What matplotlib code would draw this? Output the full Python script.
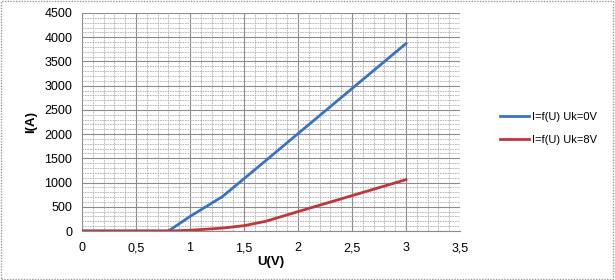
import matplotlib.pyplot as plt
from matplotlib.ticker import MultipleLocator, FuncFormatter
from matplotlib.patches import Rectangle

u = [0, 0.5, 0.8, 1.0, 1.3, 1.5, 1.7, 2.0, 2.5, 3.0]
i_uk0 = [0, 0, 0, 300, 710, 1080, 1450, 2010, 2940, 3870]
i_uk8 = [0, 0, 0, 15, 60, 110, 200, 400, 730, 1060]
labels = ['I=f(U) Uk=0V', 'I=f(U) Uk=8V']

plt.rcParams['font.family'] = ['Liberation Sans', 'DejaVu Sans']

fig = plt.figure(figsize=(6.15, 2.8), dpi=100)
ax = fig.add_axes([82 / 615, 1 - 231 / 280, (460 - 82) / 615, (231 - 13) / 280])

ax.plot(u, i_uk0, color='#3c72c4', linewidth=2, label=labels[0])
ax.plot(u, i_uk8, color='#c0363a', linewidth=2, label=labels[1])

ax.set_xlim(0, 3.5)
ax.set_ylim(0, 4500)
ax.xaxis.set_major_locator(MultipleLocator(0.5))
ax.xaxis.set_minor_locator(MultipleLocator(0.1))
ax.yaxis.set_major_locator(MultipleLocator(500))
ax.yaxis.set_minor_locator(MultipleLocator(100))
ax.xaxis.set_major_formatter(FuncFormatter(lambda v, p: ('%g' % v).replace('.', ',')))

ax.grid(which='major', color='#8c8c8c', linewidth=0.8)
ax.grid(which='minor', color='#b0b0b0', linewidth=0.6, linestyle=(0, (2, 1)))
ax.set_axisbelow(True)

for s in ['top', 'right', 'left']:
    ax.spines[s].set_visible(False)
ax.spines['bottom'].set_color('#8c8c8c')
ax.tick_params(which='both', length=0, labelsize=9, pad=7)
ax.tick_params(axis='x', pad=8)

ax.set_xlabel('U(V)', fontsize=9.5, fontweight='bold', labelpad=1)
ax.set_ylabel('I(A)', fontsize=9.5, fontweight='bold', labelpad=5)

ax.legend(loc='center left', bbox_to_anchor=(1.08, 0.47), frameon=False,
          fontsize=8, handlelength=2.6, handletextpad=0.3, labelspacing=1.2)

fig.patches.append(Rectangle((0.002, 0.004), 0.995, 0.992, transform=fig.transFigure,
                             fill=False, edgecolor='#9a9a9a', linewidth=1, linestyle=(0, (1, 1))))

fig.savefig('out.png', dpi=100)
